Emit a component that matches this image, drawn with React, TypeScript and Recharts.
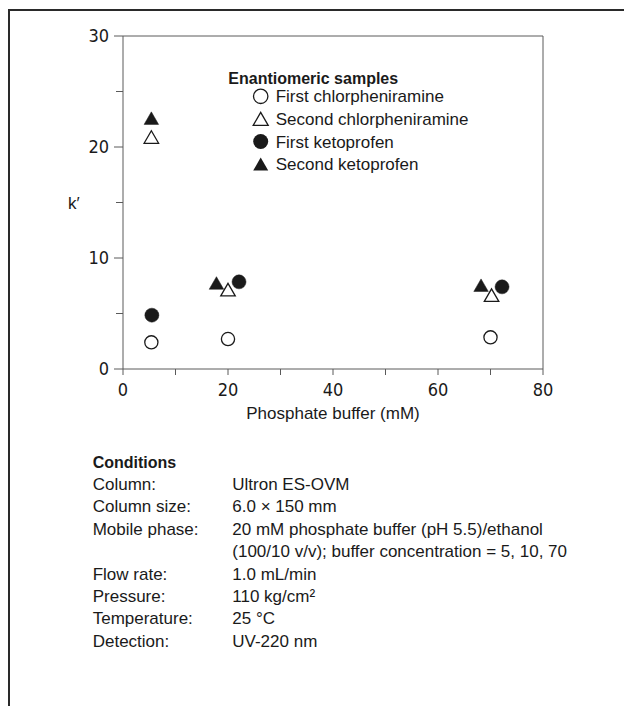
import React from 'react';
import { ScatterChart, Scatter, XAxis, YAxis, ReferenceLine, Legend } from 'recharts';

// ---- data ----
const bufferFirstChlor = [5.4, 20, 70];
const kFirstChlor = [2.4, 2.7, 2.85];
const bufferSecondChlor = [5.4, 20, 70.2];
const kSecondChlor = [20.9, 7.15, 6.65];
const bufferFirstKeto = [5.5, 22.1, 72.2];
const kFirstKeto = [4.85, 7.85, 7.4];
const bufferSecondKeto = [5.4, 17.8, 68.2];
const kSecondKeto = [22.6, 7.75, 7.55];

const xTicks = [0, 10, 20, 30, 40, 50, 60, 70, 80];
const yTicks = [0, 5, 10, 15, 20, 25, 30];
const seriesNames = ['First chlorpheniramine', 'Second chlorpheniramine', 'First ketoprofen', 'Second ketoprofen'];
const legendTitle = 'Enantiomeric samples';
const xLabel = 'Phosphate buffer (mM)';
const yLabel = 'k\u2032';
const conditionsTitle = 'Conditions';
const conditionLabels = ['Column:', 'Column size:', 'Mobile phase:', '', 'Flow rate:', 'Pressure:', 'Temperature:', 'Detection:'];
const conditionValues = [
  'Ultron ES-OVM',
  '6.0 \u00d7 150 mm',
  '20 mM phosphate buffer (pH 5.5)/ethanol',
  '(100/10 v/v); buffer concentration = 5, 10, 70',
  '1.0 mL/min',
  '110 kg/cm\u00b2',
  '25 \u00b0C',
  'UV-220 nm',
];

const toPoints = (xs: number[], ys: number[]) => xs.map((x, i) => ({ x, y: ys[i] }));

const TEXT_FONT = "'Liberation Sans', Arial, sans-serif";
const TICK_FONT = "'Liberation Sans Narrow', 'Arial Narrow', 'DejaVu Sans Condensed', sans-serif";
const INK = '#1a1a1a';
const AXIS = '#5a5a5a';

const triPath = (cx: number, cy: number, s: number) => {
  const h = (s * Math.sqrt(3)) / 2;
  return `M${cx},${cy - h / 2}L${cx + s / 2},${cy + h / 2}L${cx - s / 2},${cy + h / 2}Z`;
};

const OpenCircle = (p: any) => <circle cx={p.cx} cy={p.cy} r={6.6} fill="#fff" stroke={INK} strokeWidth={1.3} />;
const FilledCircle = (p: any) => <circle cx={p.cx} cy={p.cy} r={7} fill={INK} stroke={INK} strokeWidth={0.5} />;
const OpenTriangle = (p: any) => <path d={triPath(p.cx, p.cy, 14.5)} fill="#fff" stroke={INK} strokeWidth={1.3} />;
const FilledTriangle = (p: any) => <path d={triPath(p.cx, p.cy, 14.5)} fill={INK} stroke={INK} strokeWidth={0.5} />;

const YTick = (props: any) => {
  const { x, y, payload } = props;
  const v = payload.value;
  const axisX = x + 14;
  const major = v % 10 === 0;
  return (
    <g>
      <line x1={axisX - (major ? 9 : 7)} y1={y} x2={axisX} y2={y} stroke={AXIS} strokeWidth={1} />
      {major && (
        <text x={x} y={y} dy="0.355em" textAnchor="end" fontFamily={TICK_FONT} fontSize={18} fill={INK}>
          {v}
        </text>
      )}
    </g>
  );
};

const XTick = (props: any) => {
  const { x, y, payload } = props;
  const v = payload.value;
  const axisY = y - 14;
  const major = v % 20 === 0;
  return (
    <g>
      <line x1={x} y1={axisY} x2={x} y2={axisY + 6} stroke={AXIS} strokeWidth={1} />
      {major && (
        <text x={x} y={y} dy="0.71em" textAnchor="middle" fontFamily={TICK_FONT} fontSize={18} fill={INK}>
          {v}
        </text>
      )}
    </g>
  );
};

const LEG_LEFT = 220;
const LEG_TOP = 62;

const LegendBox = () => {
  const symX = 40.7;
  const textX = 55.7;
  const rowY = (i: number) => 34.3 + i * 22.6;
  const syms = [
    (cy: number) => <circle cx={symX} cy={cy} r={7.2} fill="#fff" stroke={INK} strokeWidth={1.3} />,
    (cy: number) => <path d={triPath(symX, cy, 15)} fill="#fff" stroke={INK} strokeWidth={1.3} />,
    (cy: number) => <circle cx={symX} cy={cy} r={7.5} fill={INK} />,
    (cy: number) => <path d={triPath(symX, cy, 15)} fill={INK} />,
  ];
  return (
    <svg width={280} height={120} style={{ display: 'block', overflow: 'visible' }}>
      <text x={8.3} y={16.3} dy="0.355em" fontFamily={TEXT_FONT} fontWeight="bold" fontSize={16} fill={INK}>
        {legendTitle}
      </text>
      {seriesNames.map((name, i) => (
        <g key={name}>
          {syms[i](rowY(i))}
          <text x={textX} y={rowY(i)} dy="0.355em" fontFamily={TEXT_FONT} fontSize={17} fill={INK}>
            {name}
          </text>
        </g>
      ))}
    </svg>
  );
};

export default function App() {
  return (
    <div style={{ position: 'absolute', left: 0, top: 0, width: 624, height: 706, background: '#fff', overflow: 'hidden' }}>
      <div
        style={{
          position: 'absolute',
          left: 8,
          top: 9,
          width: 616,
          height: 697,
          borderTop: '2px solid #2a2a2a',
          borderLeft: '2px solid #2a2a2a',
          boxSizing: 'border-box',
        }}
      />
      <div style={{ position: 'absolute', left: 0, top: 0 }}>
        <ScatterChart width={624} height={440} margin={{ top: 36, right: 81, bottom: 21, left: 63 }}>
          <XAxis
            type="number"
            dataKey="x"
            domain={[0, 80]}
            ticks={xTicks}
            interval={0}
            height={50}
            tickSize={7}
            tickMargin={7}
            tickLine={false}
            tick={<XTick />}
            axisLine={{ stroke: AXIS, strokeWidth: 1 }}
            allowDataOverflow
            label={{ value: xLabel, position: 'insideBottom', offset: 0, fontFamily: TEXT_FONT, fontSize: 17, fill: INK }}
          />
          <YAxis
            type="number"
            dataKey="y"
            domain={[0, 30]}
            ticks={yTicks}
            interval={0}
            width={60}
            tickSize={9}
            tickMargin={5}
            tickLine={false}
            tick={<YTick />}
            axisLine={{ stroke: AXIS, strokeWidth: 1 }}
            allowDataOverflow
            label={{ value: yLabel, position: 'insideLeft', offset: 5, fontFamily: TEXT_FONT, fontSize: 17, fill: INK }}
          />
          <ReferenceLine y={30} stroke={AXIS} strokeWidth={1} />
          <ReferenceLine x={80} stroke={AXIS} strokeWidth={1} />
          <Legend
            layout="horizontal"
            verticalAlign="middle"
            align="center"
            wrapperStyle={{ left: LEG_LEFT, top: LEG_TOP, width: 280, height: 120 }}
            content={() => <LegendBox />}
          />
          <Scatter name={seriesNames[3]} data={toPoints(bufferSecondKeto, kSecondKeto)} shape={FilledTriangle} isAnimationActive={false} />
          <Scatter name={seriesNames[1]} data={toPoints(bufferSecondChlor, kSecondChlor)} shape={OpenTriangle} isAnimationActive={false} />
          <Scatter name={seriesNames[2]} data={toPoints(bufferFirstKeto, kFirstKeto)} shape={FilledCircle} isAnimationActive={false} />
          <Scatter name={seriesNames[0]} data={toPoints(bufferFirstChlor, kFirstChlor)} shape={OpenCircle} isAnimationActive={false} />
        </ScatterChart>
      </div>
      <div
        style={{
          position: 'absolute',
          left: 92.7,
          top: 451.5,
          fontFamily: TEXT_FONT,
          fontSize: 17,
          lineHeight: '22.4px',
          color: INK,
          whiteSpace: 'nowrap',
        }}
      >
        <div style={{ fontWeight: 'bold', fontSize: 16 }}>{conditionsTitle}</div>
        {conditionLabels.map((lab, i) => (
          <div key={i} style={{ display: 'flex' }}>
            <span style={{ width: 139.6, display: 'inline-block' }}>{lab}</span>
            <span>{conditionValues[i]}</span>
          </div>
        ))}
      </div>
    </div>
  );
}
